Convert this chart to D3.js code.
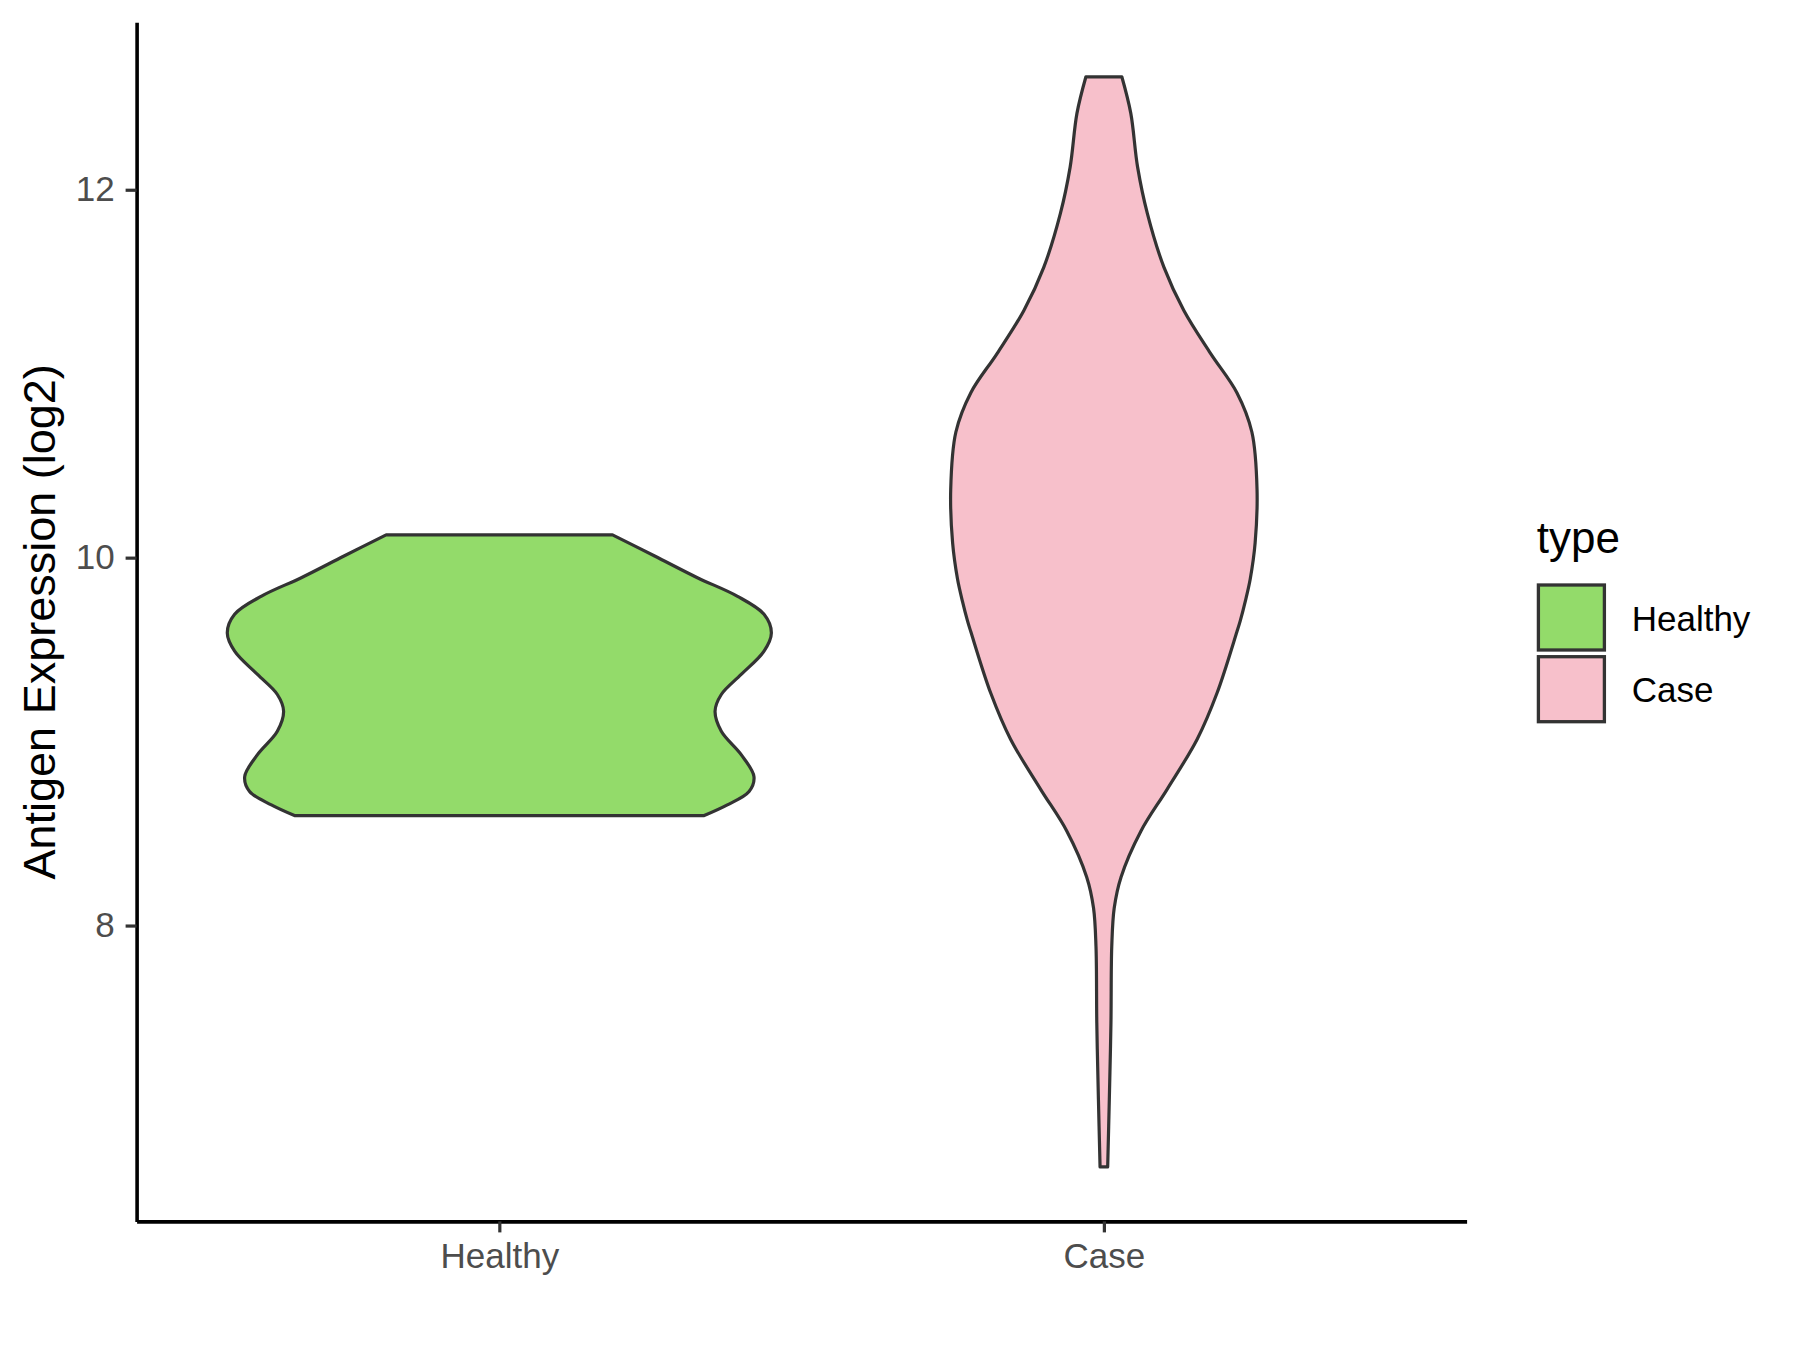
<!DOCTYPE html>
<html>
<head>
<meta charset="utf-8">
<script src="https://cdn.jsdelivr.net/npm/d3@7"></script>
<style>
  body { margin: 0; background: #fff; }
  svg { font-family: "Liberation Sans", Arial, sans-serif; }
</style>
</head>
<body>
<div id="vis"></div>
<script>
const FRAME_WIDTH = 1800;
const FRAME_HEIGHT = 1350;
const MARGINS = {left: 136.6, right: 333.4, top: 22.3, bottom: 128.6};

const categories = ["Healthy", "Case"];
const colors = ["#93DB6A", "#F7C0CB"];
const yTicks = [8, 10, 12];

// violin outlines: value (log2) and relative density
const healthyVals = [10.124, 10.009, 9.891, 9.791, 9.692, 9.591, 9.492, 9.365,
                     9.256, 9.165, 9.056, 8.929, 8.810, 8.729, 8.656, 8.598];
const healthyDens = [0.416, 0.571, 0.728, 0.874, 0.973, 1.0, 0.973, 0.889,
                     0.816, 0.793, 0.816, 0.889, 0.936, 0.918, 0.838, 0.753];

const caseVals = [12.614, 12.415, 12.123, 11.870, 11.578, 11.344, 11.111, 10.897,
                  10.683, 10.371, 10.080, 9.884, 9.764, 9.655, 9.597, 9.264,
                  9.013, 8.742, 8.513, 8.263, 8.095, 7.887, 7.470, 7.053, 6.688];
const caseDens = [0.066, 0.099, 0.124, 0.160, 0.221, 0.294, 0.392, 0.489,
                  0.544, 0.563, 0.556, 0.538, 0.520, 0.501, 0.489, 0.416,
                  0.343, 0.233, 0.136, 0.063, 0.038, 0.029, 0.026, 0.020, 0.014];

const violins = [
  {cat: "Healthy", pts: healthyVals.map((v, i) => ({v: v, d: healthyDens[i]}))},
  {cat: "Case", pts: caseVals.map((v, i) => ({v: v, d: caseDens[i]}))}
];

const svg = d3.select("#vis")
  .append("svg")
    .attr("width", FRAME_WIDTH)
    .attr("height", FRAME_HEIGHT);

// scales
const allVals = healthyVals.concat(caseVals);
const lo = d3.min(allVals), hi = d3.max(allVals);
const pad = (hi - lo) * 0.05;

const Y_SCALE = d3.scaleLinear()
  .domain([lo - pad, hi + pad])
  .range([FRAME_HEIGHT - MARGINS.bottom, MARGINS.top]);

const X_SCALE = d3.scalePoint()
  .domain(categories)
  .range([MARGINS.left, FRAME_WIDTH - MARGINS.right])
  .padding(0.6);

const W_SCALE = d3.scaleLinear()
  .domain([0, 1])
  .range([0, X_SCALE.step() * 0.45]);

const COLOR = d3.scaleOrdinal().domain(categories).range(colors);

// violins
violins.forEach(vl => {
  const cx = X_SCALE(vl.cat);
  const area = d3.area()
    .y(d => Y_SCALE(d.v))
    .x0(d => cx - W_SCALE(d.d))
    .x1(d => cx + W_SCALE(d.d))
    .curve(d3.curveCatmullRom);
  svg.append("path")
    .datum(vl.pts)
    .attr("d", area)
    .attr("fill", COLOR(vl.cat))
    .attr("stroke", "#333333")
    .attr("stroke-width", 3.2)
    .attr("stroke-linejoin", "round");
});

// axes
const yAxis = svg.append("g")
  .attr("transform", `translate(${MARGINS.left},0)`)
  .call(d3.axisLeft(Y_SCALE).tickValues(yTicks).tickFormat(d3.format("d"))
    .tickSize(11).tickSizeOuter(0).tickPadding(11));

const xAxis = svg.append("g")
  .attr("transform", `translate(0,${FRAME_HEIGHT - MARGINS.bottom})`)
  .call(d3.axisBottom(X_SCALE).tickSize(11).tickSizeOuter(0));

[yAxis, xAxis].forEach(ax => {
  ax.select(".domain").attr("stroke", "#000").attr("stroke-width", 3.6);
  ax.selectAll(".tick line").attr("stroke", "#333333").attr("stroke-width", 3.2);
  ax.selectAll(".tick text")
    .attr("fill", "#4D4D4D")
    .style("font-size", "35px")
    .style("font-family", "'Liberation Sans', Arial, sans-serif");
});
xAxis.selectAll(".tick text").attr("y", 47).attr("dy", 0);

// y title
svg.append("text")
  .attr("transform", `translate(55,${(MARGINS.top + FRAME_HEIGHT - MARGINS.bottom) / 2}) rotate(-90)`)
  .attr("text-anchor", "middle")
  .style("font-size", "45px")
  .attr("fill", "#000")
  .text("Antigen Expression (log2)");

// legend
const legend = svg.append("g").attr("transform", "translate(1536.7,0)");
legend.append("text")
  .attr("x", 0).attr("y", 553)
  .style("font-size", "44px")
  .text("type");

categories.forEach((c, i) => {
  legend.append("rect")
    .attr("x", 1.7).attr("y", 585 + i * 71.7)
    .attr("width", 66).attr("height", 65)
    .attr("fill", COLOR(c))
    .attr("stroke", "#333333")
    .attr("stroke-width", 3.3);
  legend.append("text")
    .attr("x", 95).attr("y", 630.7 + i * 71.7)
    .style("font-size", "35px")
    .text(c);
});
</script>
</body>
</html>
